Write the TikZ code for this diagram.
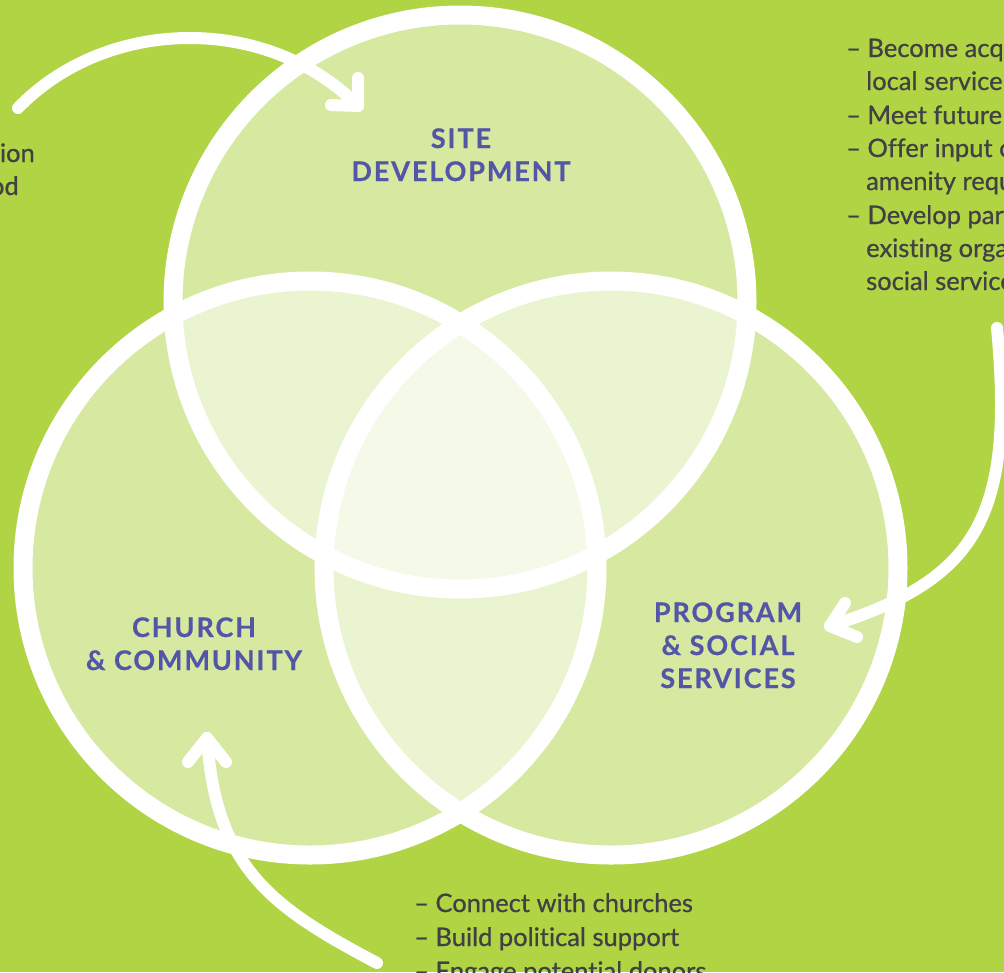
\documentclass[tikz,border=0pt]{standalone}
\usepackage{fontspec}
\setmainfont{Lato}
\newfontfamily\labelfont{Lato Bold}[LetterSpace=7, FakeBold=0.6]
\newfontfamily\bodyfont{Lato}[FakeBold=0.7, Ligatures=NoCommon]
\definecolor{bg}{HTML}{B0D444}
\definecolor{lbl}{HTML}{5356A6}
\definecolor{txt}{HTML}{414042}
\begin{document}
\begin{tikzpicture}[x=1pt,y=-1pt,
  vennfill/.style={circle, minimum size=574pt, inner sep=0pt, fill=white, fill opacity=0.5},
  vennring/.style={circle, minimum size=574pt, inner sep=0pt, draw=white, line width=19pt},
  arr/.style={draw=white, line width=12pt, line cap=round, line join=round},
  lab/.style={anchor=base, inner sep=0pt, text=lbl, font=\labelfont\fontsize{27}{33}\selectfont},
  body/.style={anchor=base west, inner sep=0pt, text=txt, font=\bodyfont\fontsize{25.5}{33.4}\selectfont},
  bodyr/.style={anchor=base east, inner sep=0pt, text=txt, font=\bodyfont\fontsize{25.5}{33.4}\selectfont}]
\useasboundingbox (0,0) rectangle (1004,972);
\clip (0,0) rectangle (1004,972);
\fill[bg] (0,0) rectangle (1004,972);

% circle fills
\node[vennfill] (top) at (460,302) {};
\node[vennfill] (left) at (310,568) {};
\node[vennfill] (right) at (611,568) {};
% circle rings
\node[vennring] (topring) at (top) {};
\node[vennring] (leftring) at (left) {};
\node[vennring] (rightring) at (right) {};

% labels
\node[lab] (site1) at (461,148) {SITE};
\node[lab] (site2) at (461,181) {DEVELOPMENT};
\node[lab] (church1) at (194,637) {CHURCH};
\node[lab] (church2) at (194,670) {\& COMMUNITY};
\node[lab] (prog1) at (728,622) {PROGRAM};
\node[lab] (prog2) at (728,655) {\& SOCIAL};
\node[lab] (prog3) at (728,688) {SERVICES};

% left cut text
\node[bodyr] (l1) at (35,162) {tion};
\node[bodyr] (l2) at (19,195) {ood};

% right text
\node[body] (r1) at (846,57) {– Become acqu};
\node[body] (r2) at (866,90) {local service};
\node[body] (r3) at (846,124) {– Meet future};
\node[body] (r4) at (846,157) {– Offer input o};
\node[body] (r5) at (866,190) {amenity requ};
\node[body] (r6) at (846,224) {– Develop part};
\node[body] (r7) at (866,257) {existing orga};
\node[body] (r8) at (866,290) {social service};

% bottom text
\node[body] (b1) at (414,912) {– Connect with churches};
\node[body] (b2) at (414,946) {– Build political support};
\node[body] (b3) at (414,980) {– Engage potential donors};

% arrows
\coordinate (a1s) at (18,108);
\coordinate (a1e) at (358,106);
\coordinate (a1l) at (358,78);
\coordinate (a1r) at (331,105);
\draw[arr] (a1s) .. controls (107,16) and (268,14) .. (a1e);
\draw[arr] (a1l) -- (a1e) -- (a1r);

\coordinate (a2s) at (997,328);
\coordinate (a2e) at (830,626);
\coordinate (a2l) at (845,603);
\coordinate (a2r) at (857,637);
\draw[arr] (a2s) .. controls (1015,520) and (975,580) .. (a2e);
\draw[arr] (a2l) -- (a2e) -- (a2r);

\coordinate (a3s) at (377,963);
\coordinate (a3e) at (207,738);
\coordinate (a3l) at (188,762);
\coordinate (a3r) at (226,762);
\draw[arr] (a3s) .. controls (271,907) and (216,868) .. (a3e);
\draw[arr] (a3l) -- (a3e) -- (a3r);
\end{tikzpicture}
\end{document}
